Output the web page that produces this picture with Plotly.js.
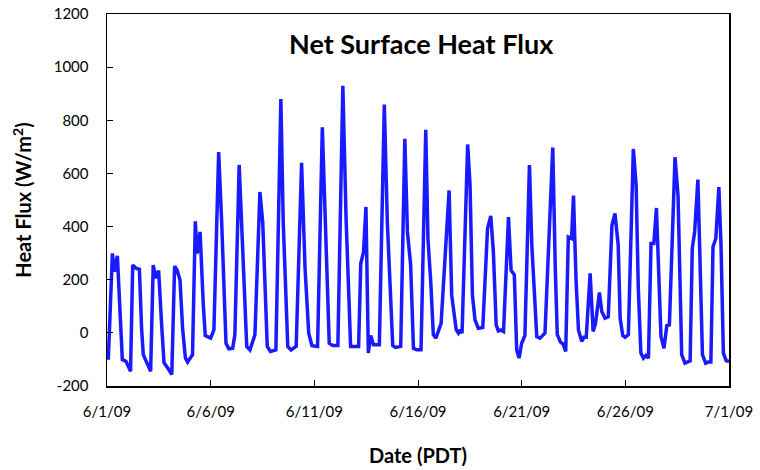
<!DOCTYPE html>
<html>
<head>
<meta charset="utf-8">
<script src="https://cdn.plot.ly/plotly-3.0.1.min.js"></script>
<style>html,body{margin:0;padding:0;background:#fff;}#chart{width:760px;height:470px;}</style>
</head>
<body>
<div id="chart"></div>
<script>
// Timestamps (PDT)
var times = [
"2009-06-01 01:30","2009-06-01 06:15","2009-06-01 08:30","2009-06-01 12:00","2009-06-01 17:45","2009-06-01 22:00",
"2009-06-02 03:15","2009-06-02 05:45","2009-06-02 09:30","2009-06-02 13:30","2009-06-02 16:00","2009-06-02 18:00",
"2009-06-03 02:30","2009-06-03 05:30","2009-06-03 08:30","2009-06-03 11:45","2009-06-03 15:15","2009-06-03 18:00","2009-06-03 22:15",
"2009-06-04 03:00","2009-06-04 06:15","2009-06-04 09:15","2009-06-04 12:30","2009-06-04 15:30","2009-06-04 18:45","2009-06-04 21:15",
"2009-06-05 03:00","2009-06-05 06:15","2009-06-05 08:15","2009-06-05 11:45","2009-06-05 15:30","2009-06-05 17:45",
"2009-06-06 00:00","2009-06-06 03:45","2009-06-06 09:15","2009-06-06 12:45","2009-06-06 17:45","2009-06-06 21:00",
"2009-06-07 01:30","2009-06-07 04:00","2009-06-07 09:00","2009-06-07 12:00","2009-06-07 17:45","2009-06-07 21:30",
"2009-06-08 03:15","2009-06-08 09:00","2009-06-08 12:15","2009-06-08 17:30","2009-06-08 21:15",
"2009-06-09 03:30","2009-06-09 09:15","2009-06-09 12:00","2009-06-09 17:15","2009-06-09 21:00",
"2009-06-10 03:00","2009-06-10 09:15","2009-06-10 13:15","2009-06-10 17:30","2009-06-10 21:15",
"2009-06-11 03:45","2009-06-11 09:15","2009-06-11 12:45","2009-06-11 17:15","2009-06-11 21:15",
"2009-06-12 03:15","2009-06-12 09:00","2009-06-12 12:45","2009-06-12 18:00","2009-06-12 21:45",
"2009-06-13 03:15","2009-06-13 05:45","2009-06-13 09:00","2009-06-13 11:45","2009-06-13 14:30","2009-06-13 17:15","2009-06-13 20:30",
"2009-06-14 03:15","2009-06-14 09:00","2009-06-14 12:30","2009-06-14 18:45","2009-06-14 22:00",
"2009-06-15 04:00","2009-06-15 08:45","2009-06-15 11:45","2009-06-15 15:30","2009-06-15 18:45","2009-06-15 22:30",
"2009-06-16 03:30","2009-06-16 09:00","2009-06-16 11:30","2009-06-16 14:45","2009-06-16 17:45","2009-06-16 20:45",
"2009-06-17 02:45","2009-06-17 12:00","2009-06-17 15:00","2009-06-17 20:15","2009-06-17 22:45",
"2009-06-18 00:45","2009-06-18 03:00","2009-06-18 09:30","2009-06-18 12:15","2009-06-18 15:00","2009-06-18 18:00","2009-06-18 21:45",
"2009-06-19 03:00","2009-06-19 08:30","2009-06-19 12:15","2009-06-19 15:15","2009-06-19 18:30","2009-06-19 21:00",
"2009-06-20 00:00","2009-06-20 03:00","2009-06-20 08:45","2009-06-20 11:45","2009-06-20 15:30","2009-06-20 18:15","2009-06-20 21:00",
"2009-06-21 00:00","2009-06-21 03:45","2009-06-21 09:00","2009-06-21 11:45","2009-06-21 17:30","2009-06-21 21:15",
"2009-06-22 03:00","2009-06-22 12:00","2009-06-22 15:00","2009-06-22 17:15","2009-06-22 21:00",
"2009-06-23 00:00","2009-06-23 03:00","2009-06-23 06:00","2009-06-23 09:45","2009-06-23 12:00","2009-06-23 15:00","2009-06-23 17:45","2009-06-23 21:30",
"2009-06-24 00:00","2009-06-24 02:45","2009-06-24 07:15","2009-06-24 10:45","2009-06-24 13:30","2009-06-24 18:00","2009-06-24 20:45",
"2009-06-25 00:30","2009-06-25 04:15","2009-06-25 08:30","2009-06-25 12:00","2009-06-25 15:45","2009-06-25 18:00","2009-06-25 21:00","2009-06-25 23:45",
"2009-06-26 03:30","2009-06-26 09:15","2009-06-26 12:30","2009-06-26 15:00","2009-06-26 18:00","2009-06-26 21:00","2009-06-26 23:45",
"2009-06-27 02:45","2009-06-27 05:45","2009-06-27 09:00","2009-06-27 12:00","2009-06-27 14:45","2009-06-27 17:15","2009-06-27 20:45",
"2009-06-28 00:00","2009-06-28 03:00","2009-06-28 06:45","2009-06-28 09:30","2009-06-28 13:00","2009-06-28 17:15","2009-06-28 21:00",
"2009-06-29 00:15","2009-06-29 03:00","2009-06-29 05:30","2009-06-29 08:15","2009-06-29 12:00","2009-06-29 14:45","2009-06-29 17:15","2009-06-29 21:00",
"2009-06-30 00:00","2009-06-30 03:00","2009-06-30 05:30","2009-06-30 08:45","2009-06-30 12:15","2009-06-30 14:45","2009-06-30 17:30","2009-06-30 20:45",
"2009-07-01 00:00"
];
// Net surface heat flux (W/m^2)
var flux = [
-101,299,230,290,-101,-107,
-145,255,243,239,19,-82,
-145,255,206,234,30,-112,-132,
-157,251,236,199,17,-95,-110,
-82,420,299,380,105,-10,
-20,11,680,417,-39,-60,
-58,-7,632,418,-51,-64,
-7,530,417,-51,-70,
-64,880,417,-51,-64,
-51,640,243,-1,-48,
-51,774,417,-39,-48,
-48,930,430,-51,-51,
-51,261,305,474,-76,-10,-45,
-45,859,417,-48,-55,
-51,730,380,255,-58,-64,
-64,764,355,193,-7,-20,
36,536,142,11,-1,
11,-1,709,555,142,49,17,
20,393,440,305,30,7,
11,5,436,236,218,-64,-95,
-39,-10,632,330,-14,-20,
-1,697,230,-7,-35,
-42,-70,361,355,517,193,11,-32,
-17,-17,224,5,36,152,80,
55,61,405,449,330,55,-10,-17,
-7,692,555,168,-76,-95,-85,
-95,336,336,470,168,-14,-58,
27,30,355,661,517,-82,-114,
-107,-105,318,380,577,205,-82,-114,
-110,-110,324,355,549,330,-76,-105,
-107
];
var xTickVals = ["2009-06-01","2009-06-06","2009-06-11","2009-06-16","2009-06-21","2009-06-26","2009-07-01"];
var xTickText = ["6/1/09","6/6/09","6/11/09","6/16/09","6/21/09","6/26/09","7/1/09"];
var yTickVals = [-200,0,200,400,600,800,1000,1200];
var yTickText = ["-200","0","200","400","600","800","1000","1200"];

var trace = {
  x: times, y: flux, type: "scatter", mode: "lines",
  line: {color: "#1a1aff", width: 3.5},
  hoverinfo: "skip"
};
var font = "Lato, 'Open Sans', sans-serif";
var layout = {
  width: 760, height: 470,
  margin: {l: 107, r: 31, t: 14, b: 84},
  paper_bgcolor: "#fff", plot_bgcolor: "#fff",
  showlegend: false,
  font: {family: font, color: "#000", size: 15},
  xaxis: {
    type: "date",
    range: ["2009-06-01", "2009-07-01"],
    tickmode: "array", tickvals: xTickVals, ticktext: xTickText,
    ticks: "inside", ticklen: 6, tickcolor: "#000", tickwidth: 1,
    showline: true, linecolor: "#000", linewidth: 1.5, mirror: true,
    showgrid: false, zeroline: false,
    ticklabelstandoff: 11,
    tickfont: {family: font, size: 15, color: "#000"},
    title: {text: "<b>Date (PDT)</b>", font: {family: font, size: 20, color: "#000"}, standoff: 30}
  },
  yaxis: {
    range: [-200, 1200],
    tickmode: "array", tickvals: yTickVals, ticktext: yTickText,
    ticks: "inside", ticklen: 6, tickcolor: "#000", tickwidth: 1,
    showline: true, linecolor: "#000", linewidth: 1.5, mirror: true,
    showgrid: false, zeroline: false,
    ticklabelstandoff: 14,
    tickfont: {family: font, size: 15, color: "#000"},
    title: {text: "<b>Heat Flux (W/m<sup>2</sup>)</b>", font: {family: font, size: 20, color: "#000"}, standoff: 16}
  },
  annotations: [{
    text: "<b>Net Surface Heat Flux</b>",
    xref: "paper", yref: "paper", x: 0.505, y: 0.92, xanchor: "center", yanchor: "middle",
    showarrow: false, font: {family: font, size: 27, color: "#000"}
  }]
};
Plotly.newPlot("chart", [trace], layout, {displayModeBar: false, staticPlot: true});
</script>
</body>
</html>
